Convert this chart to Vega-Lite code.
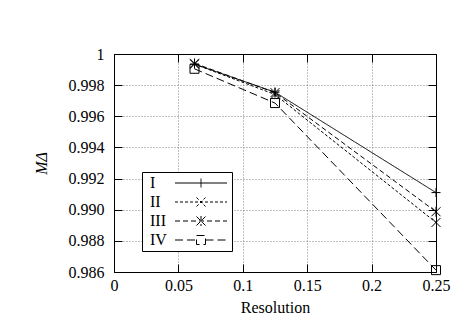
{
  "$schema": "https://vega.github.io/schema/vega-lite/v6.json",
  "width": 322,
  "height": 218,
  "autosize": "none",
  "padding": {"left": 114, "top": 54, "right": 31, "bottom": 55},
  "background": "white",
  "config": {
    "font": "Liberation Serif",
    "view": {"stroke": null},
    "axis": {
      "domainColor": "black",
      "domainWidth": 1,
      "tickColor": "black",
      "tickSize": -8,
      "tickWidth": 1,
      "labelFontSize": 16,
      "labelColor": "black",
      "labelFont": "Liberation Serif",
      "labelFlush": false,
      "titleFont": "Liberation Serif",
      "titleFontSize": 16,
      "titleFontWeight": "normal",
      "titleColor": "black",
      "gridColor": "#808080",
      "gridDash": [1, 2],
      "gridWidth": 1,
      "gridOpacity": 1
    }
  },
  "data": {
    "values": [
      {"series": "I", "res": 0.0625, "m": 0.99935},
      {"series": "I", "res": 0.125, "m": 0.99755},
      {"series": "I", "res": 0.25, "m": 0.9911},
      {"series": "II", "res": 0.0625, "m": 0.99935},
      {"series": "II", "res": 0.125, "m": 0.9974},
      {"series": "II", "res": 0.25, "m": 0.98918},
      {"series": "III", "res": 0.0625, "m": 0.9994},
      {"series": "III", "res": 0.125, "m": 0.99752},
      {"series": "III", "res": 0.25, "m": 0.98987},
      {"series": "IV", "res": 0.0625, "m": 0.99905},
      {"series": "IV", "res": 0.125, "m": 0.99685},
      {"series": "IV", "res": 0.25, "m": 0.98612}
    ]
  },
  "layer": [
    {
      "mark": {"type": "line", "color": "black", "strokeWidth": 1, "clip": false},
      "encoding": {
        "x": {
          "field": "res", "type": "quantitative",
          "scale": {"domain": [0, 0.25], "nice": false, "zero": false},
          "axis": {"orient": "bottom", "values": [0, 0.05, 0.1, 0.15, 0.2, 0.25], "format": ".2~f", "title": "Resolution", "grid": true, "labelFlush": false, "labelPadding": 13, "titlePadding": 6}
        },
        "y": {
          "field": "m", "type": "quantitative",
          "scale": {"domain": [0.986, 1], "nice": false, "zero": false},
          "axis": {"orient": "left", "values": [0.986, 0.988, 0.99, 0.992, 0.994, 0.996, 0.998, 1], "labelExpr": "datum.value >= 0.9999 ? '1' : format(datum.value, '.3f')", "title": "MΔ", "titleFontStyle": "italic", "grid": true, "labelFlush": false, "labelPadding": 18, "titlePadding": 19}
        },
        "strokeDash": {
          "field": "series", "type": "nominal",
          "scale": {"domain": ["I", "II", "III", "IV"], "range": [[1, 0], [3, 2], [5, 3], [8, 4]]},
          "legend": {
            "orient": "none",
            "legendX": 28,
            "legendY": 118,
            "title": null,
            "strokeColor": "black",
            "fillColor": "white",
            "padding": 3,
            "labelFontSize": 16,
            "labelFont": "Liberation Serif",
            "labelColor": "black",
            "symbolSize": 100,
            "symbolStrokeColor": "black",
            "symbolStrokeWidth": 1,
            "rowPadding": 3,
            "encode": {
              "symbols": {"update": {
                "x": {"value": 56},
                "shape": [
                  {"test": "datum.value === 'I'", "value": "M-5.2,0L5.2,0M0,-0.9L0,0.9"},
                  {"test": "datum.value === 'II'", "value": "M-5.2,0L5.2,0M-0.9,-0.9L0.9,0.9M-0.9,0.9L0.9,-0.9"},
                  {"test": "datum.value === 'III'", "value": "M-5.2,0L5.2,0M-0.9,-0.9L0.9,0.9M-0.9,0.9L0.9,-0.9M0,-1L0,1"},
                  {"value": "M-5.2,0L-0.9,0M0.9,0L5.2,0M-0.9,-0.9L0.9,-0.9L0.9,0.9L-0.9,0.9Z"}
                ]
              }},
              "labels": {"update": {"x": {"value": 5}}}
            }
          }
        }
      }
    },
    {
      "transform": [{"filter": "datum.series === 'I'"}],
      "mark": {"type": "point", "filled": false, "color": "black", "size": 81, "strokeWidth": 1, "opacity": 1, "clip": false, "shape": "M-1,0L1,0M0,-1L0,1"},
      "encoding": {
        "x": {"field": "res", "type": "quantitative", "axis": null, "scale": {"domain": [0, 0.25], "nice": false, "zero": false}},
        "y": {"field": "m", "type": "quantitative", "axis": null, "scale": {"domain": [0.986, 1], "nice": false, "zero": false}}
      }
    },
    {
      "transform": [{"filter": "datum.series === 'II'"}],
      "mark": {"type": "point", "filled": false, "color": "black", "size": 81, "strokeWidth": 1, "opacity": 1, "clip": false, "shape": "M-1,-1L1,1M-1,1L1,-1"},
      "encoding": {
        "x": {"field": "res", "type": "quantitative", "axis": null, "scale": {"domain": [0, 0.25], "nice": false, "zero": false}},
        "y": {"field": "m", "type": "quantitative", "axis": null, "scale": {"domain": [0.986, 1], "nice": false, "zero": false}}
      }
    },
    {
      "transform": [{"filter": "datum.series === 'III'"}],
      "mark": {"type": "point", "filled": false, "color": "black", "size": 81, "strokeWidth": 1, "opacity": 1, "clip": false, "shape": "M-1,-1L1,1M-1,1L1,-1M0,-1.1L0,1.1"},
      "encoding": {
        "x": {"field": "res", "type": "quantitative", "axis": null, "scale": {"domain": [0, 0.25], "nice": false, "zero": false}},
        "y": {"field": "m", "type": "quantitative", "axis": null, "scale": {"domain": [0.986, 1], "nice": false, "zero": false}}
      }
    },
    {
      "transform": [{"filter": "datum.series === 'IV'"}],
      "mark": {"type": "point", "filled": false, "color": "black", "size": 81, "strokeWidth": 1, "opacity": 1, "clip": false, "shape": "M-1,-1L1,-1L1,1L-1,1Z"},
      "encoding": {
        "x": {"field": "res", "type": "quantitative", "axis": null, "scale": {"domain": [0, 0.25], "nice": false, "zero": false}},
        "y": {"field": "m", "type": "quantitative", "axis": null, "scale": {"domain": [0.986, 1], "nice": false, "zero": false}}
      }
    },
    {
      "mark": {"type": "point", "opacity": 0},
      "encoding": {
        "x": {"field": "res", "type": "quantitative", "scale": {"domain": [0, 0.25], "nice": false, "zero": false}, "axis": {"orient": "top", "values": [0, 0.05, 0.1, 0.15, 0.2, 0.25], "labels": false, "title": null, "grid": false}},
        "y": {"field": "m", "type": "quantitative", "scale": {"domain": [0.986, 1], "nice": false, "zero": false}, "axis": {"orient": "right", "values": [0.986, 0.988, 0.99, 0.992, 0.994, 0.996, 0.998, 1], "labels": false, "title": null, "grid": false}}
      }
    }
  ],
  "resolve": {"axis": {"x": "independent", "y": "independent"}}
}
